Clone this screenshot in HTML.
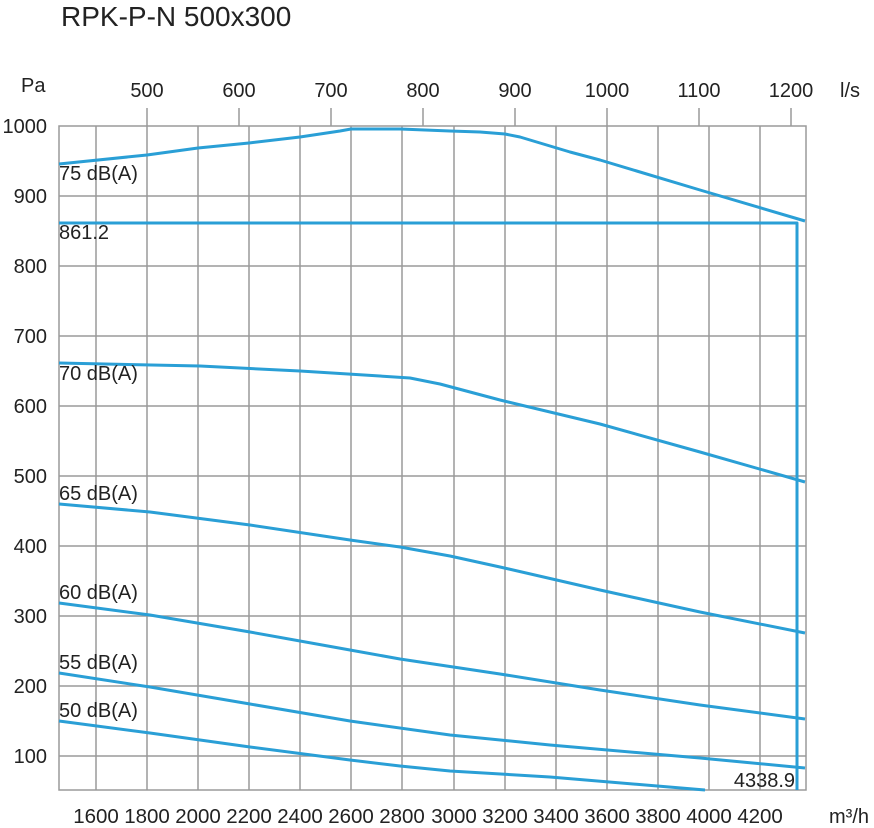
<!DOCTYPE html><html><head><meta charset="utf-8"><style>body{margin:0;background:#fff}svg{display:block}text{font-family:"Liberation Sans",sans-serif;fill:#222}</style></head><body>
<svg width="874" height="828" viewBox="0 0 874 828">
<text x="61" y="26" font-size="28">RPK-P-N 500x300</text>
<g stroke="#9a9a9a" stroke-width="1.5" fill="none">
<rect x="59" y="126" width="747" height="664"/>
<path d="M96 126V790M147 126V790M198 126V790M249 126V790M300 126V790M351 126V790M402 126V790M454 126V790M505 126V790M556 126V790M607 126V790M658 126V790M709 126V790M760 126V790"/>
<path d="M59 196H806M59 266H806M59 336H806M59 406H806M59 476H806M59 546H806M59 616H806M59 686H806M59 756H806"/>
<path d="M147 108V126M239 108V126M331 108V126M423 108V126M515 108V126M607 108V126M699 108V126M791 108V126"/>
</g>
<g font-size="20" text-anchor="end">
<text x="47" y="133">1000</text><text x="47" y="203">900</text><text x="47" y="273">800</text><text x="47" y="343">700</text><text x="47" y="413">600</text><text x="47" y="483">500</text><text x="47" y="553">400</text><text x="47" y="623">300</text><text x="47" y="693">200</text><text x="47" y="763">100</text>
</g>
<text x="21" y="92" font-size="20">Pa</text>
<g font-size="20" text-anchor="middle">
<text x="147" y="97">500</text><text x="239" y="97">600</text><text x="331" y="97">700</text><text x="423" y="97">800</text><text x="515" y="97">900</text><text x="607" y="97">1000</text><text x="699" y="97">1100</text><text x="791" y="97">1200</text>
</g>
<g font-size="20.5" text-anchor="middle">
<text x="96" y="823">1600</text><text x="147" y="823">1800</text><text x="198" y="823">2000</text><text x="249" y="823">2200</text><text x="300" y="823">2400</text><text x="351" y="823">2600</text><text x="402" y="823">2800</text><text x="454" y="823">3000</text><text x="505" y="823">3200</text><text x="556" y="823">3400</text><text x="607" y="823">3600</text><text x="658" y="823">3800</text><text x="709" y="823">4000</text><text x="760" y="823">4200</text>
</g>
<text x="840" y="97" font-size="20">l/s</text>
<text x="829" y="823" font-size="20">m³/h</text>
<g stroke="#2a9fd6" stroke-width="3" fill="none" stroke-linejoin="round">
<path d="M59 164L147 155L198 148L249 143L300 137L320 134L340 131L351 129L370 129L400 129L450 131L480 132L505 134L520 137L540 143L570 152L600 160L700 190L805 221"/>
<path d="M59 223H797V790"/>
<path d="M59 363L200 366L300 371L380 376L410 378L440 384L470 392L500 400L600 424L700 452L805 482"/>
<path d="M59 504L150 512L250 525L350 540L400 547L450 556L500 567L600 590L700 612L805 633"/>
<path d="M59 603L150 615L250 632L350 650L400 659L500 674L600 690L700 705L805 719"/>
<path d="M59 673L150 687L250 704L350 721L450 735L550 745L700 758L805 768"/>
<path d="M59 721L150 733L250 747L350 760L400 766L450 771L550 777L705 790"/>
</g>
<g font-size="20">
<text x="59" y="180">75 dB(A)</text>
<text x="59" y="239">861.2</text>
<text x="59" y="380">70 dB(A)</text>
<text x="59" y="500">65 dB(A)</text>
<text x="59" y="599">60 dB(A)</text>
<text x="59" y="669">55 dB(A)</text>
<text x="59" y="717">50 dB(A)</text>
<text x="795" y="787" text-anchor="end">4338.9</text>
</g>
</svg></body></html>
